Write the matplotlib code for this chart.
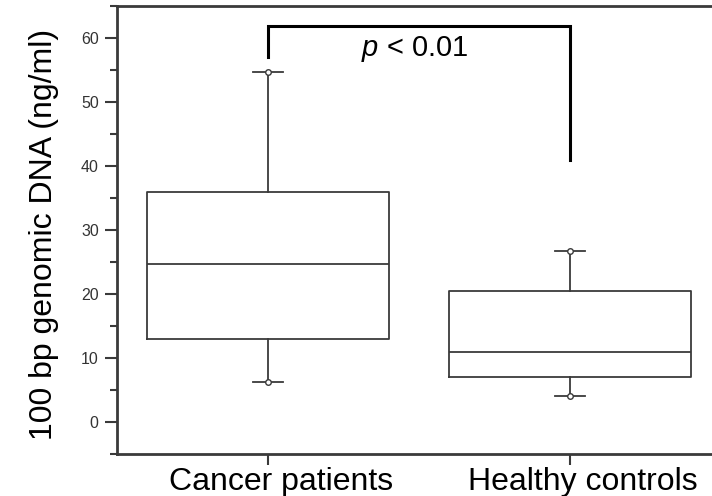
import matplotlib
matplotlib.use('Agg')
import matplotlib.pyplot as plt
import matplotlib.transforms as mtransforms
from matplotlib.ticker import MultipleLocator

# box statistics (ng/ml)
groups = ['Cancer patients', 'Healthy controls']
whisker_low = [6.3, 4.0]
q1 = [13.0, 7.0]
median = [24.7, 11.0]
q3 = [35.9, 20.4]
whisker_high = [54.7, 26.8]

# significance bracket
bracket_top = 61.9
bracket_feet = [57.1, 40.9]
p_label = '$\\it{p}$ < 0.01'

plt.rcParams['font.family'] = ['Liberation Sans', 'DejaVu Sans']
plt.rcParams['mathtext.fontset'] = 'custom'
plt.rcParams['mathtext.it'] = 'Liberation Sans:italic'
plt.rcParams['mathtext.rm'] = 'Liberation Sans'

line_col = '#3a3a3a'

fig = plt.figure(figsize=(7.12, 4.96), dpi=100)
ax = fig.add_axes([0.164, 0.0847, 0.849, 0.903])

positions = [1, 2]
stats = []
for i in range(len(groups)):
    stats.append({'whislo': whisker_low[i], 'q1': q1[i], 'med': median[i],
                  'q3': q3[i], 'whishi': whisker_high[i], 'fliers': []})

ax.bxp(stats, positions=positions, widths=0.8, capwidths=0.1, showfliers=False,
       boxprops=dict(color=line_col, linewidth=1.3),
       medianprops=dict(color=line_col, linewidth=1.3),
       whiskerprops=dict(color=line_col, linewidth=1.3),
       capprops=dict(color=line_col, linewidth=1.3))

# small open circles at the whisker ends
for i, pos in enumerate(positions):
    ax.plot([pos, pos], [whisker_low[i], whisker_high[i]], linestyle='none',
            marker='o', markersize=4, markerfacecolor='white',
            markeredgecolor=line_col, markeredgewidth=1.0, zorder=5)

# bracket
ax.plot([positions[0], positions[0], positions[1], positions[1]],
        [bracket_feet[0], bracket_top, bracket_top, bracket_feet[1]],
        color='black', linewidth=2.2, solid_joinstyle='miter')
ax.text(1.485, 58.3, p_label, ha='center', va='center', fontsize=21)

ax.set_xlim(0.5, 2.5)
ax.set_ylim(-5, 65)
ax.set_xticks(positions)
ax.set_xticklabels(groups, fontsize=23)
ax.yaxis.set_major_locator(MultipleLocator(10))
ax.yaxis.set_minor_locator(MultipleLocator(5))
ax.tick_params(axis='y', which='major', length=9, width=1.5, labelsize=11.5,
               color=line_col, labelcolor='#333333', pad=4)
ax.tick_params(axis='y', which='minor', length=5, width=1.5, color=line_col)
ax.tick_params(axis='x', which='major', length=8, width=1.5, color=line_col, pad=1.5)
ax.set_ylabel('100 bp genomic DNA (ng/ml)', fontsize=23)
ax.yaxis.set_label_coords(-0.095, 0.49)

# the category labels sit a little right of their ticks in the original
shift = mtransforms.ScaledTranslation(13 / 100, 0, fig.dpi_scale_trans)
for lab in ax.get_xticklabels():
    lab.set_transform(lab.get_transform() + shift)

for side in ['left', 'bottom', 'top']:
    ax.spines[side].set_linewidth(2)
    ax.spines[side].set_color(line_col)
ax.spines['right'].set_visible(False)

fig.savefig('out.png', dpi=100)
